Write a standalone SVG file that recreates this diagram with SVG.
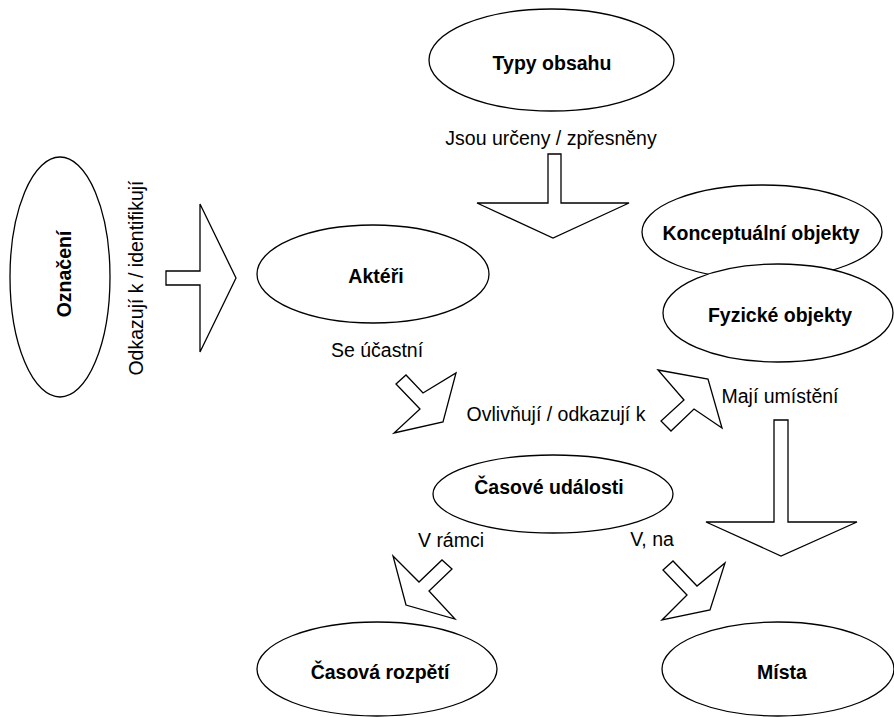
<svg xmlns="http://www.w3.org/2000/svg" width="894" height="717" viewBox="0 0 894 717">
<style>
.n{fill:#fff;stroke:#000;stroke-width:1.3}
.a{fill:#fff;stroke:#000;stroke-width:1.3;stroke-linejoin:miter}
.t{font-family:"Liberation Sans",Arial,sans-serif;font-size:19.5px;font-weight:bold;fill:#000;text-anchor:middle}
.l{font-family:"Liberation Sans",Arial,sans-serif;font-size:19.5px;fill:#000;text-anchor:middle}
</style>
<rect width="894" height="717" fill="#fff"/>
<g id="connectors">
<polygon class="a" points="548,154 561,154 561,203 629,203 553,238 477,203 548,203"/>
<text class="l" x="551" y="145">Jsou určeny / zpřesněny</text>
<polygon class="a" points="166,271 200,271 200,204 236,278 200,352 200,285 166,285"/>
<text class="l" transform="translate(143,278) rotate(-90)">Odkazují k / identifikují</text>
<polygon class="a" points="396,384 406,375 423,393 456,373 443,422 394,433 420,409"/>
<text class="l" x="377" y="357">Se účastní</text>
<text class="l" x="556" y="421">Ovlivňují / odkazují k</text>
<polygon class="a" points="658,370 708,379 722,428 694,409 671,431 661,421 684,400"/>
<text class="l" x="780" y="403">Mají umístění</text>
<polygon class="a" points="774,420 788,420 788,522 857,522 781,556 706,522 774,522"/>
<polygon class="a" points="393,556 419,582 442,560 452,569 429,591 455,619 406,605"/>
<text class="l" x="451" y="547">V rámci</text>
<polygon class="a" points="663,570 673,561 697,586 725,563 710,610 662,620 687,595"/>
<text class="l" x="652" y="546">V, na</text>
</g>
<g id="typy-obsahu">
<ellipse class="n" cx="551.5" cy="60" rx="122.5" ry="51"/>
<text class="t" x="552" y="70">Typy obsahu</text>
</g>
<g id="oznaceni">
<ellipse class="n" cx="60" cy="277" rx="50" ry="120"/>
<text class="t" transform="translate(71,274) rotate(-90)">Označení</text>
</g>
<g id="akteri">
<ellipse class="n" cx="373" cy="274" rx="116" ry="49"/>
<text class="t" x="376" y="283">Aktéři</text>
</g>
<g id="konceptualni-objekty">
<ellipse class="n" cx="762" cy="232" rx="120" ry="47"/>
<text class="t" x="761" y="240">Konceptuální objekty</text>
</g>
<g id="fyzicke-objekty">
<ellipse class="n" cx="778" cy="313" rx="115" ry="49"/>
<text class="t" x="780" y="322">Fyzické objekty</text>
</g>
<g id="casove-udalosti">
<ellipse class="n" cx="553" cy="494" rx="120" ry="39"/>
<text class="t" x="549" y="494">Časové události</text>
</g>
<g id="casova-rozpeti">
<ellipse class="n" cx="377" cy="669" rx="120" ry="47"/>
<text class="t" x="380" y="679">Časová rozpětí</text>
</g>
<g id="mista">
<ellipse class="n" cx="778" cy="669" rx="116" ry="47"/>
<text class="t" x="782" y="679">Místa</text>
</g>
</svg>
